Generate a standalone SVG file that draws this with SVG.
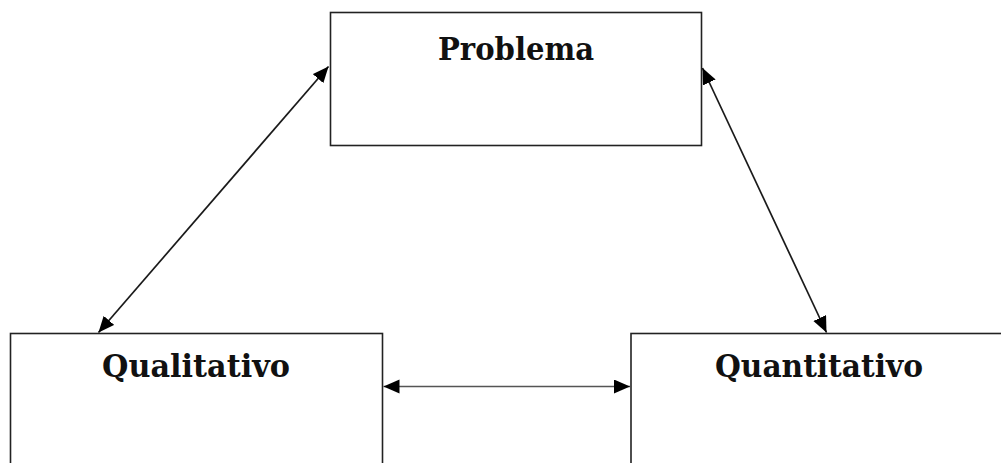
<svg xmlns="http://www.w3.org/2000/svg" width="1001" height="463" viewBox="0 0 1001 463">
<style>
.box{fill:#fff;stroke:#222;stroke-width:1.6}
.lbl{font-family:"DejaVu Serif","Liberation Serif",serif;font-weight:bold;font-size:32px;fill:#111;text-anchor:middle}
.con{stroke:#1a1a1a;stroke-width:1.7;fill:none;marker-start:url(#ah);marker-end:url(#ah)}
.h{stroke:#555}
</style>
<defs>
<marker id="ah" markerUnits="userSpaceOnUse" markerWidth="17" markerHeight="15" refX="16" refY="7" orient="auto-start-reverse">
<path d="M0,0 L16,7 L0,14 z" fill="#000"/>
</marker>
</defs>
<rect x="0" y="0" width="1001" height="463" fill="#fff"/>
<g id="problema">
<rect class="box" x="330.5" y="12.5" width="371" height="133"/>
<text class="lbl" x="516" y="59.5" textLength="156" lengthAdjust="spacingAndGlyphs">Problema</text>
</g>
<g id="qualitativo">
<rect class="box" x="10.5" y="333.5" width="372" height="200"/>
<text class="lbl" x="196" y="377" textLength="188" lengthAdjust="spacingAndGlyphs">Qualitativo</text>
</g>
<g id="quantitativo">
<rect class="box" x="631" y="333.5" width="400" height="200"/>
<text class="lbl" x="819" y="377" textLength="208" lengthAdjust="spacingAndGlyphs">Quantitativo</text>
</g>
<g id="connectors">
<line class="con" x1="98.5" y1="332.5" x2="328.5" y2="66.5"/>
<line class="con" x1="702.5" y1="68" x2="826.5" y2="332.5"/>
<line class="con h" x1="383.5" y1="386.5" x2="630" y2="386.5"/>
</g>
</svg>
